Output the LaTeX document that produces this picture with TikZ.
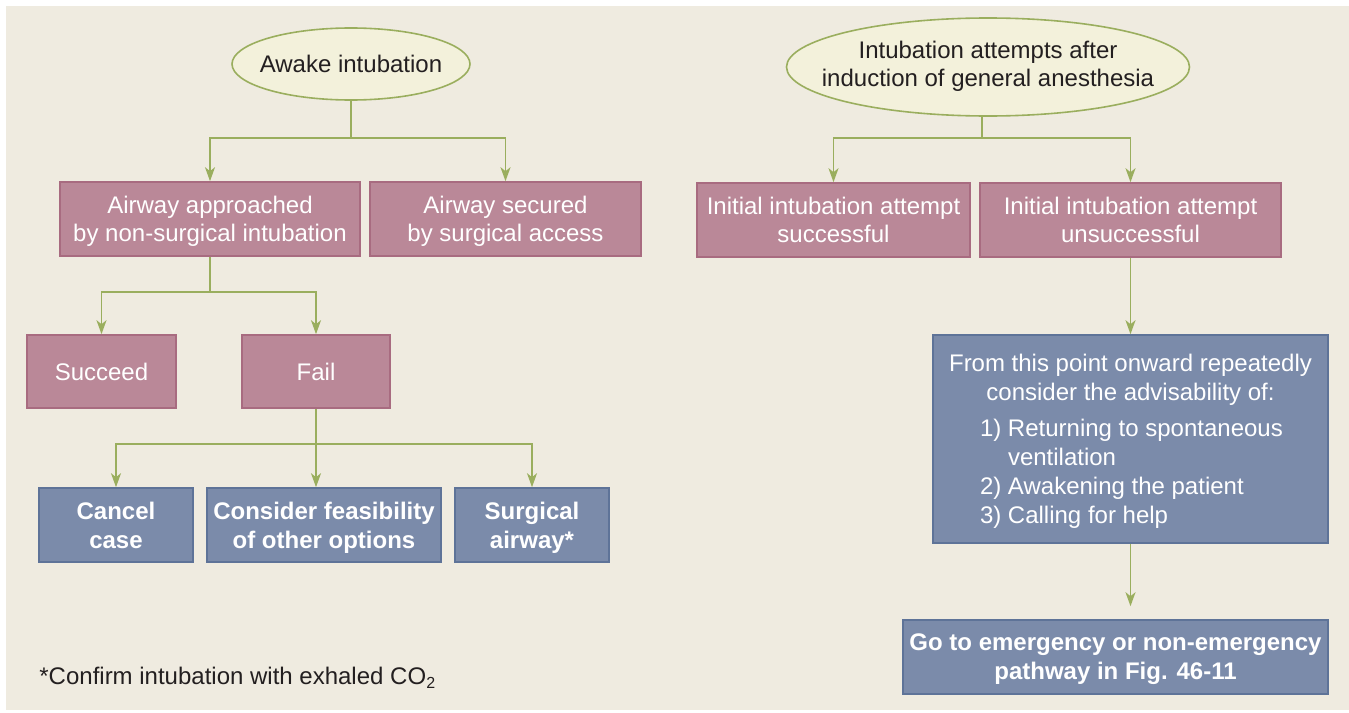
\documentclass[tikz,border=0pt]{standalone}
\usepackage{fontspec}
\setmainfont{Liberation Sans}
\usetikzlibrary{arrows.meta,shapes.geometric}
\definecolor{awbg}{HTML}{EFEBE0}
\definecolor{awcream}{HTML}{F3F1DB}
\definecolor{awolive}{HTML}{9AAE5E}
\definecolor{awrose}{HTML}{BA8898}
\definecolor{awroseline}{HTML}{A86B80}
\definecolor{awslate}{HTML}{7B8BAA}
\definecolor{awslateline}{HTML}{5E7398}
\definecolor{awtext}{HTML}{231F20}
\newcommand{\ovaltext}[1]{\makebox[0pt]{\begin{tabular}{@{}c@{}}#1\end{tabular}}}
\newcommand{\listline}[1]{\makebox[150.5pt][l]{#1}}

\begin{document}
\begin{tikzpicture}[x=0.5pt,y=-0.5pt,
  every node/.style={font=\fontsize{12}{14.2}\selectfont,inner sep=0pt,align=center},
  oval/.style={ellipse,draw=awolive,fill=awcream,line width=0.8pt,text=awtext},
  pinkbox/.style={rectangle,draw=awroseline,fill=awrose,line width=0.8pt,text=white,minimum height=37pt,text depth=0pt},
  bluebox/.style={rectangle,draw=awslateline,fill=awslate,line width=0.8pt,text=white,minimum height=37pt,text depth=0pt,
    font=\fontsize{12}{14.5}\selectfont\bfseries},
  link/.style={awolive,line width=0.9pt},
  arr/.style={link,-{Stealth[length=7pt,width=5pt,inset=2pt]}}]
  \useasboundingbox (0,0) rectangle (1349,712);
  \fill[awbg] (6,6) rectangle (1349,710);

  \node[oval,minimum width=119pt,minimum height=36pt,inner xsep=-4pt] (awake) at (351,64) {Awake intubation};
  \node[pinkbox,minimum width=150pt] (nonsurg) at (210,219) {Airway approached\\by non-surgical intubation};
  \node[pinkbox,minimum width=135.5pt] (surgacc) at (505.5,219) {Airway secured\\by surgical access};
  \node[pinkbox,minimum width=74.5pt,minimum height=36.5pt] (succeed) at (101.5,371.5) {Succeed};
  \node[pinkbox,minimum width=74pt,minimum height=36.5pt] (fail) at (316,371.5) {Fail};
  \node[bluebox,minimum width=77pt] (cancel) at (116,525) {Cancel\\case};
  \node[bluebox,minimum width=117pt] (feasible) at (324,525) {Consider feasibility\\of other options};
  \node[bluebox,minimum width=77pt] (surgway) at (532,525) {Surgical\\airway*};
  \node[anchor=west,text=awtext] (note) at (39,678) {*Confirm intubation with exhaled CO\textsubscript{2}};

  \node[oval,minimum width=201.5pt,minimum height=49pt] (induct) at (988,67)
    {\ovaltext{Intubation attempts after\\induction of general anesthesia}};
  \node[pinkbox,minimum width=136.5pt] (firstok) at (833.5,220) {Initial intubation attempt\\successful};
  \node[pinkbox,minimum width=150.5pt] (firstbad) at (1130.5,220) {Initial intubation attempt\\unsuccessful};
  \node[bluebox,minimum width=197.5pt,minimum height=104pt,font=\fontsize{12}{14.5}\selectfont] (advise) at (1130.5,439)
    {From this point onward repeatedly\\consider the advisability of:\\[3.5pt]
     \listline{1) Returning to spontaneous}\\\listline{\phantom{1) }ventilation}\\
     \listline{2) Awakening the patient}\\\listline{3) Calling for help}};
  \node[bluebox,minimum width=212.5pt] (pathway) at (1115.5,657) {Go to emergency or non-emergency\\pathway in Fig. 46-11};

  \coordinate (j1) at (351,138);
  \coordinate (j2) at (210,292);
  \coordinate (j3) at (316,444);
  \coordinate (j4) at (982,138);
  \draw[link] (awake) -- (j1);
  \draw[arr] (j1) -| (nonsurg.north);
  \draw[arr] (j1) -| (surgacc.north);
  \draw[link] (nonsurg) -- (j2);
  \draw[arr] (j2) -| (succeed.north);
  \draw[arr] (j2) -| (fail.north);
  \draw[link] (fail) -- (j3);
  \draw[arr] (j3) -| (cancel.north);
  \draw[arr] (j3) -- (j3 |- feasible.north);
  \draw[arr] (j3) -| (surgway.north);
  \draw[link] (j4 |- induct.south) -- (j4);
  \draw[arr] (j4) -| (firstok.north);
  \draw[arr] (j4) -| (firstbad.north);
  \draw[arr] (firstbad) -- (advise);
  \draw[arr,shorten >=6.5pt] (advise.south) -- (advise.south |- pathway.north);
\end{tikzpicture}
\end{document}
